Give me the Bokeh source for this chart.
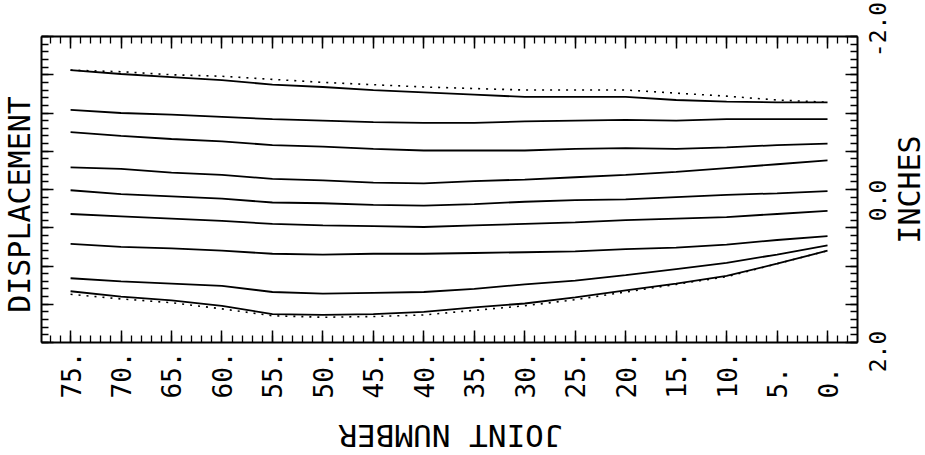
import math
from bokeh.plotting import figure
from bokeh.models import (Range1d, LinearAxis, FixedTicker, CustomJSTickFormatter)
from bokeh.core.properties import value
from bokeh.embed import file_html
from bokeh.resources import INLINE

# ---------------- data ----------------
joints = [75, 70, 65, 60, 55, 50, 45, 40, 35, 30, 25, 20, 15, 10, 5, 0]

upper_envelope = [-1.56, -1.54, -1.50, -1.48, -1.44, -1.40, -1.37, -1.34, -1.32, -1.30, -1.30, -1.30, -1.26, -1.22, -1.17, -1.14]
line_a = [-1.56, -1.51, -1.47, -1.43, -1.37, -1.34, -1.30, -1.27, -1.24, -1.21, -1.21, -1.21, -1.17, -1.15, -1.14, -1.14]
line_b = [-1.04, -1.00, -0.98, -0.95, -0.92, -0.90, -0.88, -0.87, -0.87, -0.89, -0.90, -0.91, -0.90, -0.92, -0.92, -0.92]
line_c = [-0.75, -0.70, -0.66, -0.63, -0.58, -0.56, -0.53, -0.51, -0.51, -0.51, -0.53, -0.54, -0.53, -0.55, -0.58, -0.60]
line_d = [-0.29, -0.27, -0.22, -0.19, -0.14, -0.12, -0.09, -0.08, -0.11, -0.13, -0.16, -0.19, -0.23, -0.28, -0.33, -0.38]
line_e = [0.01, 0.06, 0.09, 0.12, 0.17, 0.18, 0.20, 0.21, 0.19, 0.16, 0.14, 0.13, 0.10, 0.07, 0.05, 0.02]
line_f = [0.32, 0.35, 0.38, 0.41, 0.45, 0.47, 0.48, 0.49, 0.47, 0.45, 0.43, 0.40, 0.38, 0.36, 0.32, 0.28]
line_g = [0.71, 0.75, 0.77, 0.80, 0.84, 0.85, 0.84, 0.84, 0.83, 0.82, 0.81, 0.78, 0.76, 0.72, 0.66, 0.61]
line_h = [1.16, 1.20, 1.23, 1.26, 1.34, 1.36, 1.35, 1.34, 1.30, 1.24, 1.19, 1.12, 1.04, 0.96, 0.85, 0.73]
line_i = [1.33, 1.40, 1.45, 1.52, 1.63, 1.64, 1.63, 1.60, 1.54, 1.49, 1.41, 1.32, 1.23, 1.13, 0.97, 0.80]
lower_envelope = [1.37, 1.43, 1.48, 1.56, 1.65, 1.67, 1.66, 1.64, 1.58, 1.52, 1.44, 1.34, 1.24, 1.14, 0.97, 0.80]

solid_lines = [line_a, line_b, line_c, line_d, line_e, line_f, line_g, line_h, line_i]
dotted_lines = [upper_envelope, lower_envelope]

x_major_ticks = list(range(0, 80, 5))
x_minor_ticks = list(range(-2, 78))
x_tick_labels = [f"{t}." for t in x_major_ticks]

y_major_ticks = [-2.0, -1.5, -1.0, -0.5, 0.0, 0.5, 1.0, 1.5, 2.0]
y_minor_ticks = [round(-2.0 + 0.1 * k, 1) for k in range(41)]
y_label_ticks = [-2.0, 0.0, 2.0]
y_tick_labels = ["-2.0", "0.0", "2.0"]

x_title = "JOINT NUMBER"
y_title = "DISPLACEMENT"
y2_title = "INCHES"

# ---------------- layout / styles ----------------
W, H = 925, 455
FONT = "DejaVu Sans Mono"
BOX_X = (77.88, -2.97)          # joint values at the left / right edge of the box
BOX_Y = (-2.0, 2.0)             # displacement at the top / bottom edge of the box
BOX_PX = (41, 857, 36, 342)     # left, right, top, bottom of the box in pixels
PX_PER_J = (BOX_PX[1] - BOX_PX[0]) / (BOX_X[0] - BOX_X[1])
PX_PER_IN = (BOX_PX[3] - BOX_PX[2]) / (BOX_Y[1] - BOX_Y[0])


def dx(px):   # pixels to the right -> joint units (axis reversed)
    return -px / PX_PER_J


def dy(px):   # pixels downward -> inches (axis reversed)
    return px / PX_PER_IN


x_range = Range1d(BOX_X[0] - dx(BOX_PX[0]), BOX_X[1] + dx(W - BOX_PX[1]))
y_range = Range1d(BOX_Y[1] + dy(H - BOX_PX[3]), BOX_Y[0] - dy(BOX_PX[2]))

p = figure(width=W, height=H, output_backend="svg", toolbar_location=None,
           x_range=x_range, y_range=y_range,
           x_axis_location=None, y_axis_location=None, min_border=0)
p.xgrid.visible = False
p.ygrid.visible = False
p.outline_line_color = None
p.background_fill_color = "white"
p.border_fill_color = "white"

blank = CustomJSTickFormatter(code="return ''")


def framed_axis(ticker, loc, bounds):
    ax = LinearAxis(ticker=ticker, formatter=blank, fixed_location=loc, bounds=bounds)
    ax.major_label_text_font_size = "0px"
    ax.major_label_standoff = 0
    ax.major_tick_in = 12
    ax.major_tick_out = 0
    ax.minor_tick_in = 7
    ax.minor_tick_out = 0
    ax.axis_line_color = "black"
    ax.axis_line_width = 2
    ax.major_tick_line_color = "black"
    ax.major_tick_line_width = 1.5
    ax.minor_tick_line_color = "black"
    ax.minor_tick_line_width = 1.3
    return ax


x_ticker = FixedTicker(ticks=x_major_ticks, minor_ticks=x_minor_ticks)
y_ticker = FixedTicker(ticks=y_major_ticks, minor_ticks=y_minor_ticks)
xb = (min(BOX_X), max(BOX_X))
yb = (min(BOX_Y), max(BOX_Y))
p.add_layout(framed_axis(x_ticker, BOX_Y[1], xb), "below")
p.add_layout(framed_axis(x_ticker, BOX_Y[0], xb), "above")
p.add_layout(framed_axis(y_ticker, BOX_X[0], yb), "left")
p.add_layout(framed_axis(y_ticker, BOX_X[1], yb), "right")

for ys in solid_lines:
    p.line(joints, ys, line_color="black", line_width=1.8)
for ys in dotted_lines:
    p.line(joints, ys, line_color="black", line_width=1.6, line_dash="2 6")

txt = dict(text_font=value(FONT), text_color="black", text_baseline="middle")

# x tick labels: rotated, start-aligned below the box
p.text(x=x_major_ticks, y=[BOX_Y[1] + dy(56)] * len(x_major_ticks), text=x_tick_labels,
       angle=math.pi / 2, text_align="left", text_font_size="26px", **txt)

# right-hand tick labels
y_label_shift = [-7, 11, 9]
p.text(x=[BOX_X[1] + dx(20)] * len(y_label_ticks),
       y=[v + dy(s) for v, s in zip(y_label_ticks, y_label_shift)],
       text=y_tick_labels, angle=math.pi / 2, text_align="center",
       text_font_size="23px", **txt)

# titles
p.text(x=[BOX_X[0] + dx(-22.5)], y=[dy(15)], text=[y_title], angle=math.pi / 2,
       text_align="center", text_font_size="30px", **txt)
p.text(x=[BOX_X[1] + dx(51.5)], y=[0.0], text=[y2_title], angle=math.pi / 2,
       text_align="center", text_font_size="30px", **txt)
p.text(x=[(BOX_X[0] + BOX_X[1]) / 2 + dx(1)], y=[BOX_Y[1] + dy(93)], text=[x_title],
       angle=math.pi, text_align="center", text_font_size="31px", **txt)

open("out.html", "w").write(file_html(p, INLINE))
